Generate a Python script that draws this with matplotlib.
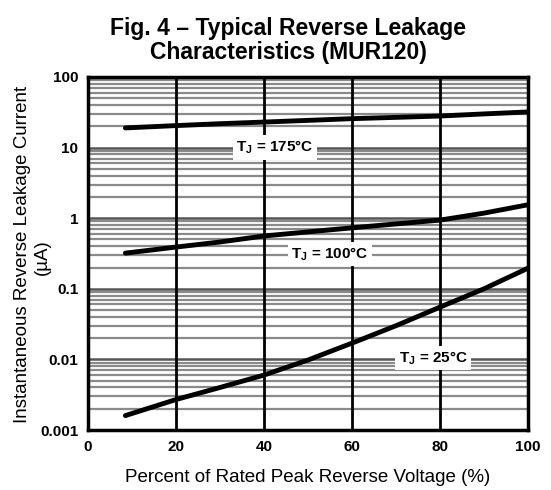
import numpy as np
import matplotlib
matplotlib.use("Agg")
import matplotlib.pyplot as plt
from matplotlib.ticker import FixedLocator, NullFormatter

plt.rcParams['font.family'] = ['Liberation Sans', 'DejaVu Sans']

# Data
pct_voltage = [8.5, 20, 30, 40, 50, 60, 70, 80, 90, 100]
i_175 = [19, 20.5, 21.8, 23, 24.3, 25.7, 26.8, 28, 30, 32]
i_100 = [0.32, 0.39, 0.46, 0.56, 0.64, 0.73, 0.83, 0.94, 1.18, 1.55]
i_25 = [0.0016, 0.0027, 0.0040, 0.006, 0.0098, 0.017, 0.030, 0.055, 0.10, 0.196]

x_ticks = [0, 20, 40, 60, 80, 100]
y_ticks = [0.001, 0.01, 0.1, 1, 10, 100]
y_tick_labels = ['0.001', '0.01', '0.1', '1', '10', '100']

curve_labels = ['T$_\\mathregular{J}$ = 175°C', 'T$_\\mathregular{J}$ = 100°C', 'T$_\\mathregular{J}$ = 25°C']
label_pos = [(42.5, 10), (55, 0.31), (78.5, 0.0105)]

fig = plt.figure(figsize=(5.51, 4.9), dpi=100)
ax = fig.add_axes([88/551, 60/490, 440/551, 353/490])

ax.set_yscale('log')
ax.set_xlim(0, 100)
ax.set_ylim(0.001, 100)

# horizontal grid at every minor log step
minor = [m * 10.0**e for e in range(-3, 2) for m in range(2, 10)]
for v in minor:
    ax.axhline(v, color='#8a8a8a', lw=1.6, zorder=1)
for v in y_ticks[1:-1]:
    ax.axhline(v, color='#555555', lw=1.8, zorder=1)
for v in x_ticks[1:-1]:
    ax.axvline(v, color='black', lw=2.0, zorder=2)

for y in (i_175, i_100, i_25):
    ax.plot(pct_voltage, y, color='black', lw=3.5, solid_capstyle='round', zorder=4)

for txt, (x, y) in zip(curve_labels, label_pos):
    ax.text(x, y, txt, ha='center', va='center', fontsize=11, fontweight='bold',
            bbox=dict(facecolor='white', edgecolor='none', pad=2.5), zorder=3)

ax.xaxis.set_major_locator(FixedLocator(x_ticks))
ax.yaxis.set_major_locator(FixedLocator(y_ticks))
ax.yaxis.set_minor_formatter(NullFormatter())
ax.set_yticklabels(y_tick_labels)
ax.tick_params(which='both', length=0, labelsize=11, pad=7)
for lbl in ax.get_xticklabels() + ax.get_yticklabels():
    lbl.set_fontweight('bold')

for s in ax.spines.values():
    s.set_linewidth(2.5)

ax.set_xlabel('Percent of Rated Peak Reverse Voltage (%)', fontsize=13.5, labelpad=11)
fig.text(0.040, 0.480, 'Instantaneous Reverse Leakage Current', rotation=90,
         ha='center', va='center', fontsize=13.5)
fig.text(0.077, 0.476, '(µA)', rotation=90, ha='center', va='center', fontsize=13.5)

fig.text(0.523, 0.918, 'Fig. 4 – Typical Reverse Leakage\nCharacteristics (MUR120)',
         ha='center', va='center', fontsize=16.5, fontweight='bold', linespacing=1.05)

fig.savefig('out.png', dpi=100)
